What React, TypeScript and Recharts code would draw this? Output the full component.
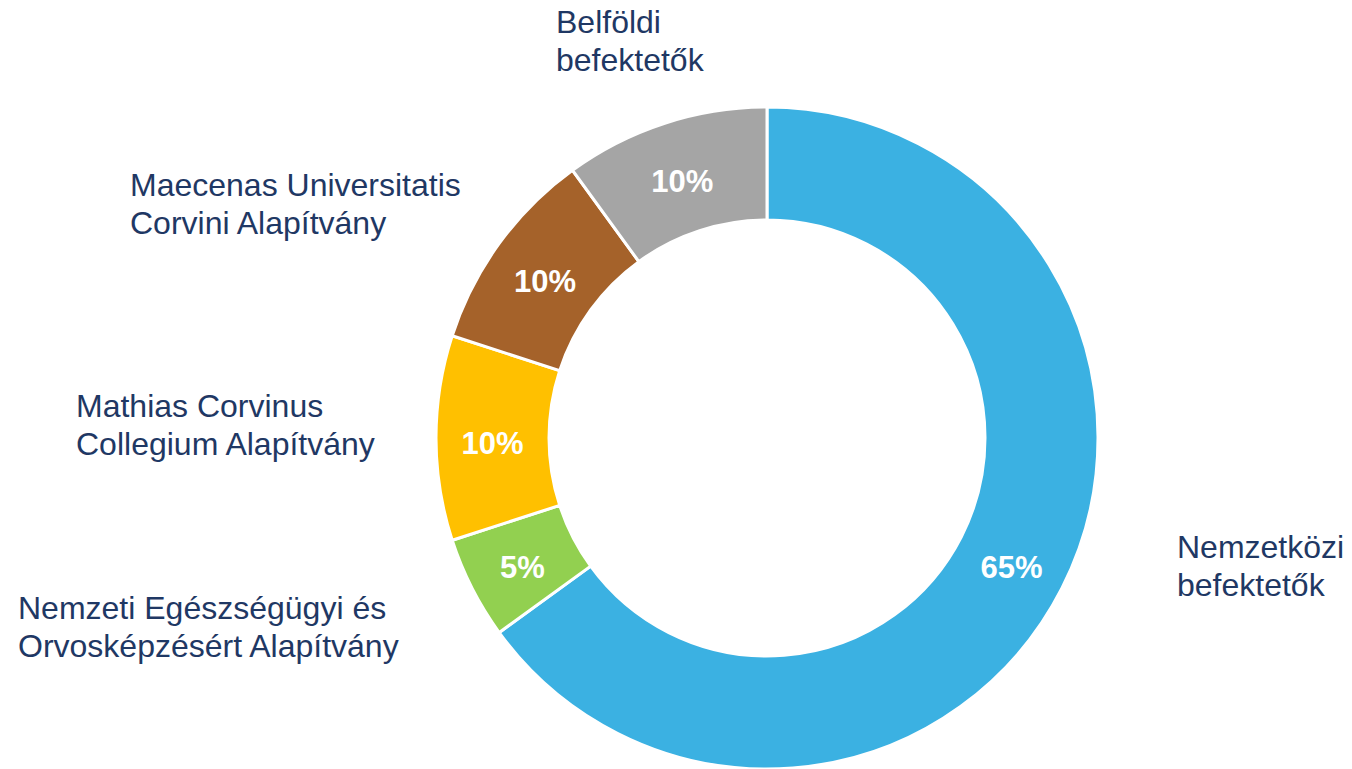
import { PieChart, Pie, Cell } from 'recharts';

const categories = [
    'Nemzetközi\nbefektetők',
    'Nemzeti Egészségügyi és\nOrvosképzésért Alapítvány',
    'Mathias Corvinus\nCollegium Alapítvány',
    'Maecenas Universitatis\nCorvini Alapítvány',
    'Belföldi\nbefektetők',
];
const shares = [65, 5, 10, 10, 10];
const colors = ['#3BB1E2', '#92D050', '#FFC000', '#A5622A', '#A5A5A5'];

// where each category name sits, as an offset from the pie centre
const nameOffsets = [
    { dx: 410, dy: 120 },
    { dx: -749, dy: 181 },
    { dx: -691, dy: -21 },
    { dx: -637, dy: -242 },
    { dx: -211, dy: -405 },
];

const data = categories.map((name, i) => ({ name, value: shares[i] }));

const RADIAN = Math.PI / 180;
const FONT = '"Liberation Sans", Arial, sans-serif';

const renderLabel = (props: any) => {
    const { cx, cy, midAngle, innerRadius, outerRadius, index, value } = props;
    const r = (innerRadius + outerRadius) / 2;
    const x = cx + r * Math.cos(-midAngle * RADIAN);
    const y = cy + r * Math.sin(-midAngle * RADIAN);
    const off = nameOffsets[index];
    const lines = categories[index].split('\n');
    return (
        <g>
            <text
                x={x}
                y={y + 5}
                fill="#fff"
                textAnchor="middle"
                dominantBaseline="central"
                fontFamily={FONT}
                fontWeight="bold"
                fontSize={31}
            >
                {value}%
            </text>
            <text x={cx + off.dx} y={cy + off.dy} fill="#1F3864" fontFamily={FONT} fontSize={32}>
                {lines.map((l, i) => (
                    <tspan key={i} x={cx + off.dx} dy={i === 0 ? 0 : 38}>
                        {l}
                    </tspan>
                ))}
            </text>
        </g>
    );
};

export default function App() {
    return (
        <div style={{ position: 'absolute', left: 0, top: 0, width: 1352, height: 769, background: '#fff' }}>
            <PieChart width={1352} height={769} margin={{ top: 0, right: 0, bottom: 0, left: 0 }}>
                <Pie
                    data={data}
                    dataKey="value"
                    cx={767}
                    cy={438}
                    innerRadius={218}
                    outerRadius={331}
                    startAngle={90}
                    endAngle={-270}
                    stroke="#fff"
                    strokeWidth={3}
                    label={renderLabel}
                    labelLine={false}
                    isAnimationActive={false}
                >
                    {data.map((d, i) => (
                        <Cell key={d.name} fill={colors[i]} />
                    ))}
                </Pie>
            </PieChart>
        </div>
    );
}
